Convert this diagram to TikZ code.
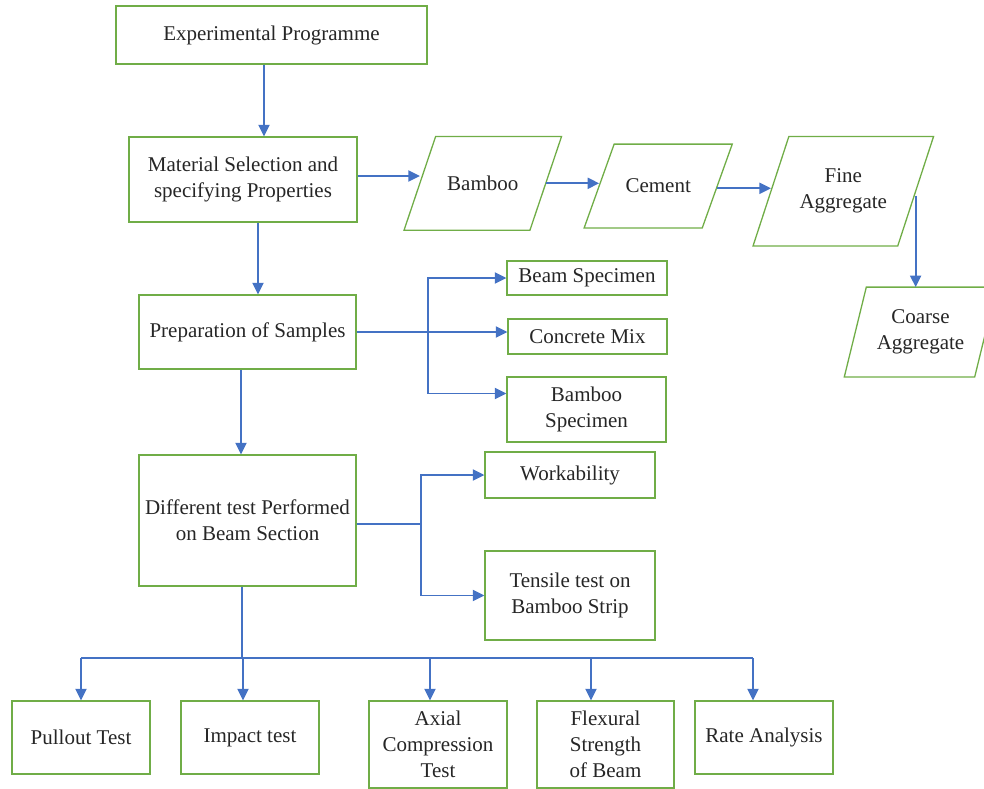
\documentclass[tikz,border=0pt]{standalone}
\usepackage{fontspec}
\setmainfont{Liberation Serif}
\newfontfamily\figfont{Liberation Serif}
\usetikzlibrary{arrows.meta,calc}
\definecolor{bxgreen}{HTML}{70AD47}
\definecolor{lnblue}{HTML}{4472C4}
\definecolor{txt}{HTML}{262626}
\newcommand\parabox[2]{\draw[bxgreen,line width=1.3pt,line join=miter]
  ([xshift=#2]#1.north west) -- ([xshift=#2]#1.north east) --
  ([xshift=-#2]#1.south east) -- ([xshift=-#2]#1.south west) -- cycle;}
\begin{document}
\begin{tikzpicture}[x=1pt,y=-1pt,
 txtstyle/.style={align=center,font=\figfont\fontsize{21}{26}\selectfont,text=txt,inner sep=0pt},
 box/.style={txtstyle,draw=bxgreen,line width=1.3pt,rectangle},
 para/.style={txtstyle,rectangle},
 arr/.style={draw=lnblue,line width=1.9pt,-{Triangle[length=11.5pt,width=11pt]}},
 ln/.style={draw=lnblue,line width=1.9pt}]
\useasboundingbox (0,0) rectangle (984,788);
% main column
\node[box,minimum width=311pt,minimum height=58pt] (exp) at (271.5,35) {Experimental Programme};
\node[box,minimum width=228pt,minimum height=85pt] (mat) at (243,179.5) {Material Selection and\\specifying Properties};
\node[box,minimum width=217pt,minimum height=74pt] (prep) at (247.5,332) {Preparation of Samples};
\node[box,minimum width=217pt,minimum height=131pt] (diff) at (247.5,520.5) {Different test Performed\\on Beam Section};
% materials (parallelograms)
\node[para,minimum width=125.5pt,minimum height=93.3pt] (bam) at (482.8,183.3) {Bamboo};
\parabox{bam}{15.8pt}
\node[para,minimum width=117.7pt,minimum height=83.4pt] (cem) at (658.2,186) {Cement};
\parabox{cem}{15pt}
\node[para,minimum width=144.3pt,minimum height=109pt] (fine) at (843.3,191.2) {Fine\\Aggregate};
\parabox{fine}{17.9pt}
\node[para,minimum width=130pt,minimum height=89.4pt] (coarse) at (920.5,332) {Coarse\\Aggregate};
\parabox{coarse}{11pt}
% samples
\node[box,minimum width=160pt,minimum height=34pt] (beam) at (587,278) {Beam Specimen};
\node[box,minimum width=159pt,minimum height=35pt] (conc) at (587.5,336.5) {Concrete Mix};
\node[box,minimum width=159pt,minimum height=65pt] (bspec) at (586.5,409.5) {Bamboo\\Specimen};
% tests side
\node[box,minimum width=170pt,minimum height=46pt] (work) at (570,475) {Workability};
\node[box,minimum width=170pt,minimum height=89pt] (tens) at (570,595.5) {Tensile test on\\Bamboo Strip};
% bottom row
\node[box,minimum width=138pt,minimum height=73pt] (pull) at (81,737.5) {Pullout Test};
\node[box,minimum width=138pt,minimum height=73pt] (imp) at (250,737.5) {Impact test};
\node[box,minimum width=138pt,minimum height=87pt] (axial) at (438,744.5) {Axial\\Compression\\Test};
\node[box,minimum width=137pt,minimum height=87pt] (flex) at (605.5,744.5) {Flexural\\Strength\\of Beam};
\node[box,minimum width=138pt,minimum height=73pt] (rate) at (764,737.5) {Rate Analysis};
% connectors
\draw[arr] ([xshift=-7.5pt]exp.south) -- ([xshift=-7.5pt]exp.south |- mat.north);
\draw[arr] ([yshift=3.5pt]mat.east) -- ([yshift=3.5pt]mat.east -| bam.west);
\draw[arr] (bam.east) -- (bam.east -| cem.west);
\draw[arr] ([yshift=-2.3pt]cem.east) -- ([yshift=-2.3pt]cem.east -| fine.west);
\draw[arr] ([yshift=-4.5pt]fine.east) -- (fine.east |- coarse.north);
\draw[arr] ([xshift=15pt]mat.south) -- ([xshift=15pt]mat.south |- prep.north);
\coordinate (pj) at (428,332);
\draw[arr] (prep.east) -- (prep.east -| conc.west);
\draw[arr] (pj) |- (beam.west);
\draw[arr] (pj) |- ([yshift=16pt]bspec.west);
\draw[arr] ([xshift=-6.5pt]prep.south) -- ([xshift=-6.5pt]prep.south |- diff.north);
\coordinate (dj) at (421,524);
\draw[ln] (diff.east |- dj) -- (dj);
\draw[arr] (dj) |- (work.west);
\draw[arr] (dj) |- (tens.west);
\coordinate (bus) at (242,658);
\draw[ln] (diff.south -| bus) -- (bus);
\draw[ln] (pull.north |- bus) -- ([xshift=-11pt]rate.north |- bus);
\draw[arr] (pull.north |- bus) -- (pull.north);
\draw[arr] ([xshift=-7pt]imp.north |- bus) -- ([xshift=-7pt]imp.north);
\draw[arr] ([xshift=-8pt]axial.north |- bus) -- ([xshift=-8pt]axial.north);
\draw[arr] ([xshift=-14.5pt]flex.north |- bus) -- ([xshift=-14.5pt]flex.north);
\draw[arr] ([xshift=-11pt]rate.north |- bus) -- ([xshift=-11pt]rate.north);
\end{tikzpicture}
\end{document}
